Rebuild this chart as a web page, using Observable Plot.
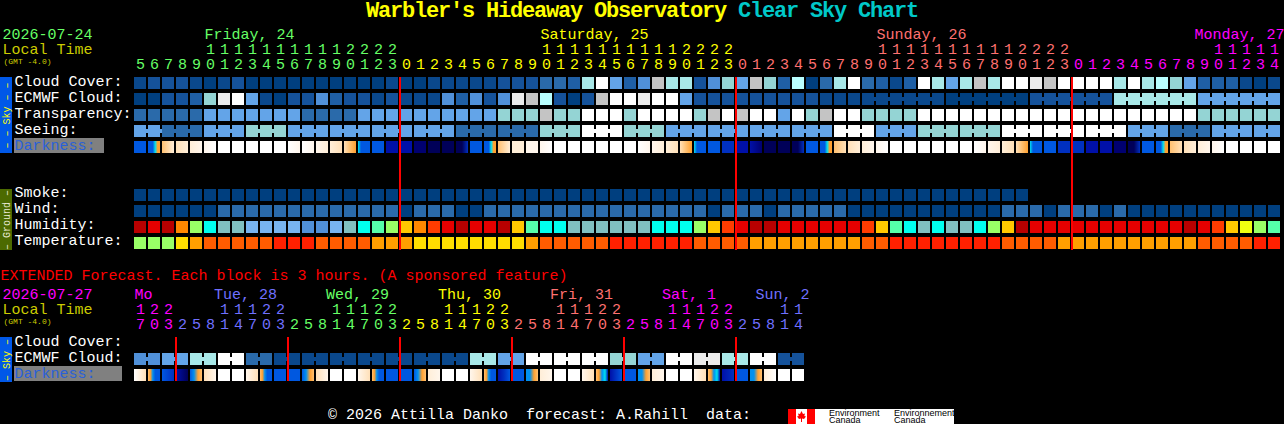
<!DOCTYPE html>
<html>
<head>
<meta charset="utf-8">
<script src="https://cdn.jsdelivr.net/npm/d3@7"></script>
<script src="https://cdn.jsdelivr.net/npm/@observablehq/plot@0.6"></script>
<style>
  html, body { margin: 0; background: #000; width: 1284px; height: 424px; overflow: hidden; }
  #page { position: relative; width: 1284px; height: 424px; font-family: "Liberation Mono", monospace; }
  h1 { position: absolute; left: 0; right: 0; top: 0; margin: 0; text-align: center; font-size: 22px; letter-spacing: -1.2px; line-height: 24px; font-weight: bold; color: #ffff00; white-space: pre; }
  h1 span { color: #00c8c8; }
  #chart { position: absolute; left: 0; top: 27px; }
  #chart svg { display: block; }
  #footer { position: absolute; left: 328px; top: 407px; font-size: 15px; line-height: 18px; color: #fff; white-space: pre; }
  #logo { position: absolute; left: 788px; top: 409px; width: 166px; height: 15px; background: #fff; overflow: hidden; }
  #logo i { position: absolute; font: 9px/7px "Liberation Sans", sans-serif; color: #000; white-space: pre; }
</style>
</head>
<body>
<div id="page">
  <h1>Warbler's Hideaway Observatory <span>Clear Sky Chart</span></h1>
  <div id="chart"></div>
  <div id="footer">© 2026 Attilla Danko  forecast: A.Rahill  data:</div>
  <div id="logo">
    <svg width="27" height="15" style="position:absolute;left:0;top:0">
      <rect width="8" height="15" fill="#f00"/><rect x="19" width="8" height="15" fill="#f00"/>
      <path d="M13.5 2 L15 5 L17 4.5 L16.3 7 L18 7.5 L16 10 L14 9.6 L14 13 L13 13 L13 9.6 L11 10 L9 7.5 L10.7 7 L10 4.5 L12 5 Z" fill="#f00"/>
    </svg>
    <i style="left:41px;top:1px">Environment
Canada</i>
    <i style="left:106px;top:1px">Environnement
Canada</i>
  </div>
</div>
<script>
// ---------- data: tick labels ----------
const mainHours = [5,6,7,8,9,10,11,12,13,14,15,16,17,18,19,20,21,22,23,
  0,1,2,3,4,5,6,7,8,9,10,11,12,13,14,15,16,17,18,19,20,21,22,23,
  0,1,2,3,4,5,6,7,8,9,10,11,12,13,14,15,16,17,18,19,20,21,22,23,
  0,1,2,3,4,5,6,7,8,9,10,11,12,13,14];
const extHours = [17,20,23,2,5,8,11,14,17,20,23,2,5,8,11,14,17,20,23,2,5,8,11,14,17,20,23,
  2,5,8,11,14,17,20,23,2,5,8,11,14,17,20,23,2,5,8,11,14];
const mainDays = ["Friday, 24","Saturday, 25","Sunday, 26","Monday, 27"];
const extDays = ["Mo","Tue, 28","Wed, 29","Thu, 30","Fri, 31","Sat, 1","Sun, 2"];
const mainDayColors = ["#66ff66","#ffff00","#ff7070","#ff00ff"];
const extDayColors = ["#ff00ff","#7070ff","#66ff66","#ffff00","#ff7070","#ff00ff","#7070ff"];

// ---------- data: palettes ----------
const skyPalette = ["#003f7f","#0a488c","#15529a","#1f5fa5","#2a6aaa","#5090d8","#63a4e8","#94d4d4","#a8e8e8","#b9ffff","#ffffff","#ebebeb","#c4c4c4"];
const humidityPalette = ["#b80000","#e60000","#ff3c00","#ff8800","#ffc800","#f0ff10","#99ff66","#55ffaa","#00ffee","#80c0c0","#78b4f0","#5090d8"];
const temperaturePalette = ["#99ff66","#ffdd00","#ff9f00","#ff5c00","#ff2000"];
const darkPalette = {n:"#000058",d:"#000070",m:"#0010a8",k:"#0030c0",b:"#0058e0",s:"#0090f0",c:"#00e0f0",o:"#ffa030",p:"#ffc070",t:"#ffe0b8",u:"#ffeed8",v:"#fff6ec",w:"#ffffff"};

// ---------- data: hourly series ----------
const cloudCover = [1,2,2,2,1,0,1,2,0,0, 0,0,0,0,0,0,0,0,1,0, 0,1,1,1,1,1,2,2,2,4, 4,3,8,10,6,3,5,12,8,8,
  2,5,7,6,12,7,3,9,0,4, 8,10,4,3,1,3,10,8,6,8, 12,8,10,10,11,12,10,10,10,10, 8,10,8,9,7,6,3,3,3,1, 0,1];
const ecmwfCloud = [0,0,2,2,3,7,11,10,6,1, 0,2,2,5,3,2,2,1,2,1, 1,1,5,3,5,2,5,11,12,9, 2,0,2,12,10,10,11,10,10,6,
  2,2,2,2,2,2,2,2,2,1, 1,1,1,1,1,1,1,1,0,0, 0,0,0,0,2,2,2,2,2,2, 8,8,8,8,8,8,6,6,6,6, 6,6];
const transparency = [4,4,4,4,4,6,6,6,6,6, 6,6,4,4,4,4,6,6,6,6, 6,6,6,6,6,6,7,7,7,12, 7,7,10,10,10,7,10,10,10,10,
  7,12,10,12,10,10,6,10,7,12, 10,10,7,7,7,7,10,10,10,10, 10,10,10,10,10,10,10,10,10,10, 10,10,10,10,10,10,7,7,7,7, 7,7];
const seeing = [6,6,4,4,4,6,6,6,7,7, 7,6,6,6,6,6,6,6,6,6, 6,6,6,4,4,4,4,4,4,7, 7,7,10,10,10,7,7,7,6,6,
  6,6,6,6,6,6,6,6,6,6, 10,10,10,6,6,6,7,7,7,7, 7,7,10,10,10,10,10,10,10,10, 10,6,6,6,4,4,4,6,6,6, 6,6];
const darkness = ["b","bbbcoo","pu","tu","uv","vw","w","w","w","w","w","wv","wv","vu","ut","tpo","cbbbb","b","m","m",
  "d","n","n","nnk","b","bbbcoo","pu","u","v","vw","w","w","w","w","w","w","wv","vu","ut","tpo","cbbbb","b","k","m",
  "md","n","n","nnk","b","bbbcoo","pt","tu","uv","vw","w","w","w","w","w","w","wv","vu","ut","tpo","cbbbb","b","k","k",
  "m","m","d","nnk","b","bbbcoo","pt","tu","uv","vw","w","w","w","w"];
const smoke = [0,0,0,0,0,0,0,0,0,0, 0,0,0,0,0,0,0,0,0,0, 0,0,0,0,0,0,0,0,0,0, 0,0,0,0,0,0,0,0,0,0,
  0,0,0,0,0,0,0,0,0,0, 0,0,0,0,0,0,0,0,0,0, 0,0,0,0];
const wind = [0,0,0,0,0,0,4,4,4,4, 4,4,4,4,4,4,4,4,4,0, 4,4,4,0,0,4,4,4,4,4, 4,4,4,4,4,4,4,4,4,4,
  4,0,4,4,4,0,4,4,4,4, 4,0,0,0,0,0,0,0,0,0, 0,0,4,4,4,0,4,4,4,0, 4,0,0,0,0,0,0,0,0,0, 0,0];
const humidity = [0,1,0,3,6,8,9,9,10,10, 10,10,11,11,10,9,8,7,6,4, 3,2,1,0,1,1,0,4,7,8, 8,9,9,9,9,9,9,8,8,8,
  6,4,2,1,0,0,1,1,1,1, 1,1,2,4,7,8,9,8,9,9, 8,6,4,0,1,1,1,1,1,1, 1,1,1,1,1,0,1,2,4,5, 6,7];
const temperature = [0,0,0,1,2,3,3,3,3,3, 4,4,4,3,3,3,3,2,2,2, 1,1,1,1,1,1,1,1,2,3, 3,3,3,3,4,4,4,4,4,4,
  3,3,3,3,2,2,2,2,2,2, 2,2,3,3,4,4,4,4,4,4, 4,4,3,3,3,3,2,2,2,2, 2,2,2,2,2,2,3,3,3,3, 4,4];

// ---------- data: 3-hourly series ----------
const extEcmwfCloud = [5,5,6,6,8,8,10,10,4,4, 1,1,1,1,1,1,1,1,1,1, 1,1,1,1,8,8,6,6,10,10, 10,10,10,10,7,7,6,6,10,10, 11,11,8,8,10,10,2,2];
const extDarkness = ["wt","posbbb","bk","mn","bsop","tv","w","w","vt","posbbb","b","b","bsop","tv","w","w",
  "vt","posbbb","b","b","bsop","uv","w","w","vt","posbbb","mkb","b","ssop","uv","w","w",
  "vt","poscm","mb","b","ssop","uv","w","w","vt","poscm","mk","b","ssop","uw","w","w"];

// ---------- layout: row positions are page pixels turned into row units ----------
const rowTop = py => (py - 29) / 16;
const colAt = px => (px - 134) / 14;
const CELL = 6 / 7, ROW = 0.75;

const mainRows = [
  ["Cloud Cover:", cloudCover, skyPalette, 77],
  ["ECMWF Cloud:", ecmwfCloud, skyPalette, 93, i => i >= 52 && (i - 52) % 6 < 5],
  ["Transparency:", transparency, skyPalette, 109],
  ["Seeing:", seeing, skyPalette, 125, i => i < 1 || (i - 2) % 3 < 2],
  ["Smoke:", smoke, skyPalette, 189],
  ["Wind:", wind, skyPalette, 205],
  ["Humidity:", humidity, humidityPalette, 221],
  ["Temperature:", temperature, temperaturePalette, 237],
  ["ECMWF Cloud:", extEcmwfCloud, skyPalette, 353, i => i % 2 === 0]
];
const cells = [], links = [];
for (const [name, values, palette, top, linked] of mainRows) {
  values.forEach((v, i) => {
    const rec = {col: i, row: rowTop(top), fill: palette[v]};
    cells.push(rec);
    if (linked && linked(i) && i + 1 < values.length) links.push(rec);
  });
}
const stopsFill = s => s.length === 1 ? darkPalette[s] : "url(#dk-" + s + ")";
darkness.forEach((s, i) => cells.push({col: i, row: rowTop(141), fill: stopsFill(s)}));
extDarkness.forEach((s, i) => cells.push({col: i, row: rowTop(369), fill: stopsFill(s)}));

const gradients = () => {
  const defs = d3.create("svg:defs");
  for (const s of new Set([...darkness, ...extDarkness].filter(s => s.length > 1))) {
    const g = defs.append("linearGradient").attr("id", "dk-" + s);
    [...s].forEach((k, j) => g.append("stop").attr("offset", j / (s.length - 1)).attr("stop-color", darkPalette[k]));
  }
  return defs.node();
};

// ---------- header labels ----------
const withDay = hours => {
  let day = 0;
  return hours.map((h, col) => {
    if (col > 0 && h < hours[col - 1]) day++;
    return {h, col, day};
  });
};
const mainH = withDay(mainHours), extH = withDay(extHours);
const rule = (cols, top, bottom) => cols.map(col => ({col, y1: rowTop(top), y2: rowTop(bottom)}));
const midnightMain = mainH.filter(d => d.h === 0).map(d => d.col);
const midnightExt = extH.filter(d => d.col > 0 && d.day > extH[d.col - 1].day).map(d => d.col);

const mainDayLabels = mainDays.map((label, day) => {
  const c = mainH.find(d => d.day === day && d.h === 10).col;
  return {label, col: Math.min(c, colAt(1284 - label.length * 9)), color: mainDayColors[day]};
});
const extDayLabels = extDays.map((label, day) => {
  const first = extH.find(d => d.day === day).col;
  const c = day === 0 ? first : first + 3 - 4.4 / 14;
  return {label, col: Math.min(c, colAt(809 - label.length * 9)), color: extDayColors[day]};
});

const text = (data, o) => Plot.text(data, {fontFamily: "Liberation Mono", fontSize: 15, textAnchor: "start", ...o});
const center = py => rowTop(py - 1.5);
const tick = (hours, palette, tensY, unitsY) => [
  text(hours.filter(d => d.h >= 10), {x: d => d.col + 3 / 7, y: () => center(tensY), text: d => String(Math.floor(d.h / 10)), textAnchor: "middle", fill: d => palette[d.day]}),
  text(hours, {x: d => d.col + 3 / 7, y: () => center(unitsY), text: d => String(d.h % 10), textAnchor: "middle", fill: d => palette[d.day]})
];
const one = (label, px, py, fill, extra = {}) => text([label], {x: () => colAt(px), y: () => center(py), text: d => d, fill: () => fill, ...extra});

const rowLabels = [["Cloud Cover:",82.5],["ECMWF Cloud:",98.5],["Transparency:",114.5],["Seeing:",130.5],
  ["Smoke:",193.5],["Wind:",209.5],["Humidity:",225.5],["Temperature:",241.5],["Cloud Cover:",342.5],["ECMWF Cloud:",358.5]];

const panels = [
  {x1: 0, x2: 12, y1: 77, y2: 153, fill: "#0058e8"},
  {x1: 0, x2: 12, y1: 189, y2: 250, fill: "#4c6a00"},
  {x1: 0, x2: 12, y1: 337, y2: 382, fill: "#0058e8"},
  {x1: 14, x2: 104, y1: 138, y2: 153, fill: "#808080"},
  {x1: 14, x2: 122, y1: 366, y2: 381, fill: "#808080"}
];

const chart = Plot.plot({
  width: 1284, height: 378,
  marginTop: 0, marginRight: 0, marginBottom: 0, marginLeft: 0,
  style: {background: "#000"},
  x: {type: "linear", domain: [0, 82], range: [134, 1282], axis: null},
  y: {type: "linear", domain: [rowTop(27), rowTop(405)], range: [0, 378], axis: null},
  color: {type: "identity"},
  marks: [
    gradients,
    Plot.rect(panels, {x1: d => colAt(d.x1), x2: d => colAt(d.x2), y1: d => rowTop(d.y1), y2: d => rowTop(d.y2), fill: "fill"}),
    Plot.rect(cells, {x1: "col", x2: d => d.col + CELL, y1: "row", y2: d => d.row + ROW, fill: "fill"}),
    Plot.rect(links, {x1: d => d.col + CELL, x2: d => d.col + 1, y1: d => d.row + ROW / 3, y2: d => d.row + 2 * ROW / 3, fill: "fill"}),
    Plot.rect([...rule(midnightMain, 77, 250), ...rule(midnightExt, 337, 381)], {x1: d => d.col - 1 / 14, x2: d => d.col + 1 / 14, y1: "y1", y2: "y2", fill: () => "#ff0000"}),

    one("2026-07-24", 2, 35.5, "#66ff66"),
    one("Local Time", 2, 50.5, "#cccc00"),
    one("(GMT -4.0)", 3, 62.5, "#cccc00", {fontSize: 8}),
    text(mainDayLabels, {x: "col", y: () => center(35.5), text: "label", fill: "color"}),
    ...tick(mainH, mainDayColors, 50.5, 65.5),

    one("EXTENDED Forecast. Each block is 3 hours. (A sponsored feature)", 0, 276.5, "#ff0000"),
    one("2026-07-27", 2, 295.5, "#ff00ff"),
    one("Local Time", 2, 310.5, "#cccc00"),
    one("(GMT -4.0)", 3, 322.5, "#cccc00", {fontSize: 8}),
    text(extDayLabels, {x: "col", y: () => center(295.5), text: "label", fill: "color"}),
    ...tick(extH, extDayColors, 310.5, 325.5),

    text(rowLabels, {x: () => colAt(14), y: d => center(d[1]), text: d => d[0], fill: () => "#ffffff"}),
    one("Darkness:", 14, 146.5, "#2a60d8"),
    one("Darkness:", 14, 374.5, "#2a60d8"),

    text(["– – Sky – –"], {x: () => colAt(6), y: () => center(116.5), text: d => d, rotate: -90, textAnchor: "middle", fontSize: 10, fill: () => "#ffff00"}),
    text(["– Ground –"], {x: () => colAt(6), y: () => center(221), text: d => d, rotate: -90, textAnchor: "middle", fontSize: 10, fill: () => "#e8e8d0"}),
    text(["– Sky –"], {x: () => colAt(6), y: () => center(361), text: d => d, rotate: -90, textAnchor: "middle", fontSize: 10, fill: () => "#ffff00"})
  ]
});
document.getElementById("chart").append(chart);
</script>
</body>
</html>
